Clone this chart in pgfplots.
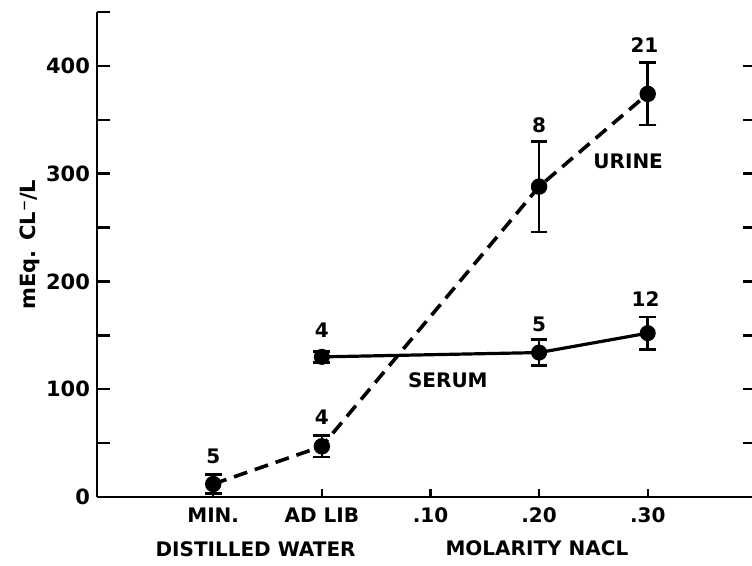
\documentclass[border=0pt]{standalone}
\usepackage{fontspec}
\setmainfont{DejaVu Sans}
\usepackage{pgfplots}
\pgfplotsset{compat=1.18}

\begin{document}
\begin{tikzpicture}[font=\fontsize{10}{12}\selectfont\bfseries]
\useasboundingbox (-48.5pt,-34.5pt) rectangle (327.5pt,248.5pt);
\begin{axis}[
    name=main,
    scale only axis,
    width=327.5pt, height=242.5pt,
    xmin=-0.07, xmax=5.96,
    ymin=0, ymax=450,
    clip=false,
    axis lines*=left,
    axis line style={line width=1.4pt},
    xtick={1,2,3,4,5},
    xticklabels={MIN., AD LIB, .10, .20, .30},
    ytick={0,100,200,300,400},
    minor ytick={50,150,250,350,450},
    tick align=inside,
    major tick length=6.5pt, minor tick length=6.5pt,
    tick style={line width=1.2pt, black},
    xtick style={/pgfplots/major tick length=4pt},
    xticklabel style={yshift=-2pt},
    yticklabel style={font=\fontsize{10.5}{12}\selectfont\bfseries},
    /pgf/number format/assume math mode=true,
    ylabel={mEq. CL⁻/L},
    ylabel style={at={(axis description cs:-0.102,0.52)}, anchor=center,
        font=\fontsize{10.5}{12}\selectfont\bfseries},
    error bars/y dir=both,
    error bars/y explicit,
    error bars/error bar style={line width=1.3pt, solid},
    error bars/error mark options={rotate=90, mark size=4.2pt, line width=1.3pt, solid},
]
% urine (dashed)
\addplot[black, line width=1.8pt, dash pattern=on 7pt off 4pt,
    mark=*, mark size=3.2pt, mark options={solid, fill=black}]
  coordinates {
    (1,12)  +- (0,9)
    (2,47)  +- (0,10)
    (4,288) +- (0,42)
    (5,374) +- (0,29)
  };
% serum (solid)
\addplot[black, line width=1.6pt, solid,
    mark=*, mark size=3.2pt, mark options={fill=black}]
  coordinates {
    (2,130) +- (0,5)
    (4,134) +- (0,12)
    (5,152) +- (0,15)
  };

% sample counts
\node[anchor=south, inner sep=0pt] at (axis cs:1,30) {5};
\node[anchor=south, inner sep=0pt] at (axis cs:2,67) {4};
\node[anchor=south, inner sep=0pt] at (axis cs:2,148) {4};
\node[anchor=south, inner sep=0pt] at (axis cs:4,338) {8};
\node[anchor=south, inner sep=0pt] at (axis cs:4.97,412) {21};
\node[anchor=south, inner sep=0pt] at (axis cs:4,153) {5};
\node[anchor=south, inner sep=0pt] at (axis cs:4.98,176) {12};

\node at (axis cs:4.82,311) {URINE};
\node at (axis cs:3.16,108) {SERUM};

% second row of x labels
\node[anchor=north, inner sep=0pt] at (axis cs:1.39,0) [yshift=-22pt] {DISTILLED WATER};
\node[anchor=north, inner sep=0pt] at (axis cs:3.98,0) [yshift=-21.5pt] {MOLARITY NACL};
\end{axis}

% right-hand ticks, no spine
\begin{axis}[
    scale only axis,
    width=327.5pt, height=242.5pt,
    xmin=-0.07, xmax=5.96,
    ymin=0, ymax=450,
    axis x line=none,
    axis y line*=right,
    y axis line style={draw=none},
    ytick={50,100,...,400},
    yticklabels={},
    tick align=inside,
    major tick length=4.5pt,
    tick style={line width=1.2pt, black},
]
\end{axis}
\end{tikzpicture}
\end{document}
